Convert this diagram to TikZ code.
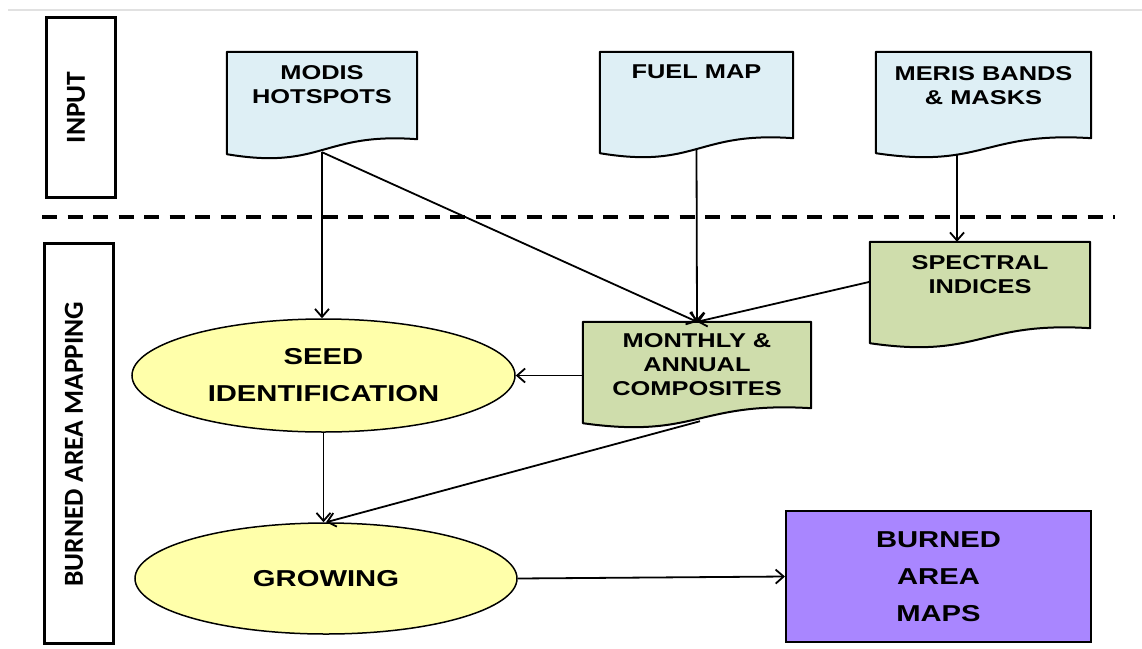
\documentclass[tikz,border=0pt]{standalone}
\usepackage{fontspec}
\setmainfont{Liberation Sans}
\newfontfamily\boxfont{Liberation Sans}[FakeStretch=1.27]
\newfontfamily\sidefont{Carlito}
\usetikzlibrary{arrows.meta,shapes.geometric,calc}

\definecolor{docblue}{RGB}{222,239,245}
\definecolor{docgreen}{RGB}{207,221,172}
\definecolor{seedyellow}{RGB}{255,255,170}
\definecolor{mapviolet}{RGB}{169,134,255}
\definecolor{rulegray}{RGB}{225,225,225}

% document shape: flat top, wavy bottom (left end low, right end raised)
\newcommand\docshape[2]{%
  \draw[docline, fill=#2] (#1.north west) -- (#1.north east)
    -- ($(#1.south east)+(0,-15)$)
    .. controls ($(#1.south)+(0,-22)$) and ($(#1.south)+(0,16)$) .. (#1.south west)
    -- cycle;}

\tikzset{
  docnode/.style={rectangle, draw=none, inner sep=0pt},
  docline/.style={draw=black, line width=2pt, line join=round},
  doctext/.style={anchor=north, inner sep=0pt, align=center,
    font=\boxfont\bfseries\fontsize{20}{24}\selectfont},
  oval/.style={ellipse, draw=black, line width=1.5pt, fill=seedyellow,
    inner sep=0pt, align=center, font=\boxfont\bfseries\fontsize{23}{37}\selectfont},
  mapbox/.style={rectangle, draw=black, line width=2pt, fill=mapviolet,
    inner sep=0pt, align=center, font=\boxfont\bfseries\fontsize{23}{37}\selectfont},
  sidebox/.style={rectangle, draw=black, line width=3pt, inner sep=0pt},
  sidetext/.style={rotate=90, inner sep=0pt,
    font=\sidefont\bfseries\fontsize{27.5}{30}\selectfont},
  arr/.style={draw=black, line width=1.8pt,
    -{Straight Barb[length=8pt,width=14pt]}},
  sepline/.style={draw=black, line width=3.5pt, dash pattern=on 15pt off 10.5pt},
}

\begin{document}
\begin{tikzpicture}[x=1pt,y=-1pt]
\useasboundingbox (0,0) rectangle (1142,648);

% thin rule along the top
\coordinate (rule-l) at (8,9.5);
\coordinate (rule-r) at (1142,9.5);
\draw[rulegray, line width=2pt] (rule-l) -- (rule-r);

% section frames
\node[sidebox, minimum width=69pt, minimum height=180pt] (inputbox) at (80.5,107) {};
\node[sidetext] (inputlabel) at (76,107.5) {INPUT};
\node[sidebox, minimum width=69pt, minimum height=400pt] (bambox) at (78.5,443) {};
\node[sidetext] (bamlabel) at (74,444) {BURNED AREA MAPPING};

% separator between the two sections
\coordinate (sep-l) at (42,217);
\coordinate (sep-r) at (1115,217);
\draw[sepline] (sep-l) -- (sep-r);

% data documents
\node[docnode, minimum width=190pt, minimum height=102pt] (modis) at (322,103) {};
\node[docnode, minimum width=193pt, minimum height=101pt] (fuel) at (696.5,102.5) {};
\node[docnode, minimum width=215pt, minimum height=101pt] (meris) at (983.5,102.5) {};
\node[docnode, minimum width=220pt, minimum height=101pt] (spectral) at (980,292.5) {};
\node[docnode, minimum width=228pt, minimum height=101pt] (monthly) at (697,372.5) {};

\docshape{modis}{docblue}
\docshape{fuel}{docblue}
\docshape{meris}{docblue}
\docshape{spectral}{docgreen}
\docshape{monthly}{docgreen}

\node[doctext] (modis-t) at (322,65) {MODIS\\HOTSPOTS};
\node[doctext] (fuel-t) at (696.5,65) {FUEL MAP};
\node[doctext] (meris-t) at (983.5,66) {MERIS BANDS\\\& MASKS};
\node[doctext] (spectral-t) at (980,255) {SPECTRAL\\INDICES};
\node[doctext] (monthly-t) at (697,333) {MONTHLY \&\\ANNUAL\\COMPOSITES};

% processing steps and product
\node[oval, minimum width=383pt, minimum height=113pt] (seed) at (323.5,375.5) {SEED\\IDENTIFICATION};
\node[oval, minimum width=382pt, minimum height=111pt] (growing) at (326,578.5) {GROWING};
\node[mapbox, minimum width=305pt, minimum height=131pt] (maps) at (938.5,576.5) {BURNED\\AREA\\MAPS};

% connector end points on the wavy document bottoms
\coordinate (modis-out) at ($(modis.south)+(0,-2)$);
\coordinate (fuel-out) at ($(fuel.south)+(0,-3)$);
\coordinate (meris-out) at ($(meris.south west)!0.377!(meris.south east)+(0,2)$);
\coordinate (spec-in) at ($(spectral.north west)+(0,40)$);
\coordinate (monthly-out) at ($(monthly.south)+(3,-2)$);

% flow
\draw[arr] (modis-out) -- (modis-out |- seed.north);
\draw[arr] (modis-out) -- (monthly.north);
\draw[arr] (fuel-out) -- (monthly.north);
\draw[arr] (meris-out) -- (meris-out |- spectral.north);
\draw[arr] (spec-in) -- (monthly.north);
\draw[arr] (monthly.west |- seed.east) -- (seed.east);
\draw[arr] (seed.south) -- (seed.south |- growing.north);
\draw[arr] (monthly-out) -- (growing.north);
\draw[arr] (growing.east) -- (maps.west);
\end{tikzpicture}
\end{document}
